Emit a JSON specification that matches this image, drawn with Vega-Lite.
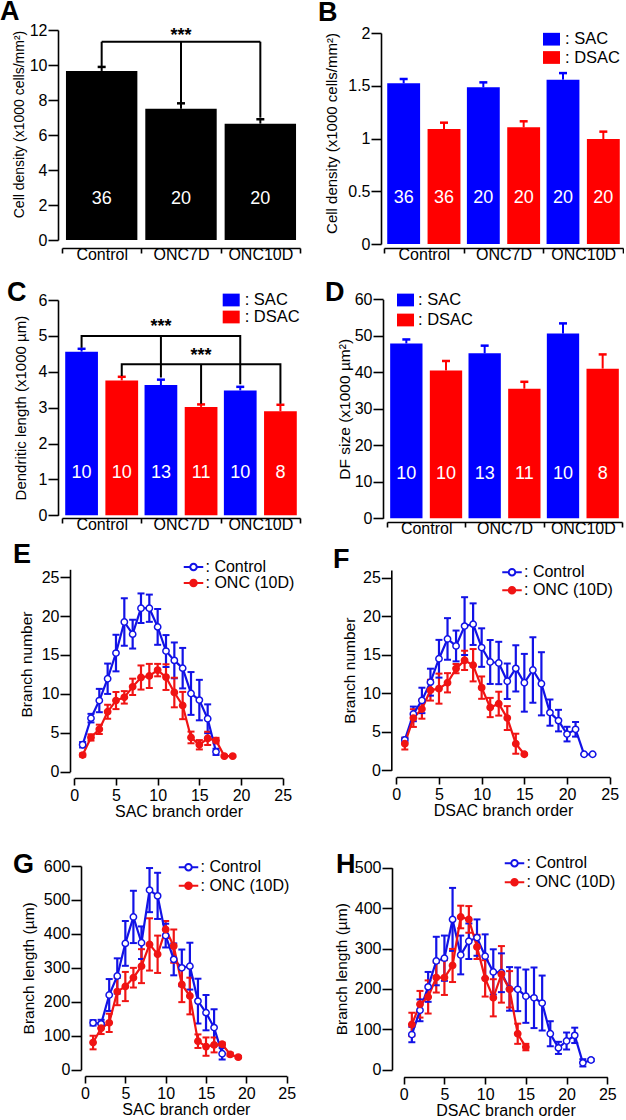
{
"$schema": "https://vega.github.io/schema/vega-lite/v6.json",
"background": "white",
"padding": {"left": 0, "top": -2, "right": 0, "bottom": 0},
"bounds": "flush",
"columns": 2,
"spacing": {"row": 51, "column": 84},
"resolve": {"scale": {"color": "independent", "fill": "independent", "x": "independent", "y": "independent", "xOffset": "independent"}, "legend": {"color": "independent", "fill": "independent"}},
"datasets": {
"A": [{"group":"Control","mean":9.66,"hi":9.89,"n":"36"},{"group":"ONC7D","mean":7.5,"hi":7.81,"n":"20"},{"group":"ONC10D","mean":6.65,"hi":6.9,"n":"20"}],
"bracketA": [{"group":"Control","group2":"ONC10D","y":11.33,"y2":11.33},{"group":"Control","group2":"Control","y":11.33,"y2":9.94},{"group":"ONC7D","group2":"ONC7D","y":11.33,"y2":7.83},{"group":"ONC10D","group2":"ONC10D","y":11.33,"y2":6.99}],
"starsA": [{"group":"ONC7D","y":11.38}],
"B": [{"group":"Control","cell":"SAC","mean":1.523,"hi":1.564,"n":"36"},{"group":"Control","cell":"DSAC","mean":1.09,"hi":1.15,"n":"36"},{"group":"ONC7D","cell":"SAC","mean":1.485,"hi":1.532,"n":"20"},{"group":"ONC7D","cell":"DSAC","mean":1.106,"hi":1.163,"n":"20"},{"group":"ONC10D","cell":"SAC","mean":1.558,"hi":1.62,"n":"20"},{"group":"ONC10D","cell":"DSAC","mean":0.995,"hi":1.065,"n":"20"}],
"C": [{"group":"Control","cell":"SAC","mean":4.56,"hi":4.64,"n":"10"},{"group":"Control","cell":"DSAC","mean":3.76,"hi":3.86,"n":"10"},{"group":"ONC7D","cell":"SAC","mean":3.63,"hi":3.78,"n":"13"},{"group":"ONC7D","cell":"DSAC","mean":3.02,"hi":3.09,"n":"11"},{"group":"ONC10D","cell":"SAC","mean":3.48,"hi":3.58,"n":"10"},{"group":"ONC10D","cell":"DSAC","mean":2.9,"hi":3.08,"n":"8"}],
"bracketC": [{"bid":"s","ord":0,"group":"Control","cell":"SAC","y":4.67},{"bid":"s","ord":1,"group":"Control","cell":"SAC","y":5.0},{"bid":"s","ord":2,"group":"ONC10D","cell":"SAC","y":5.0},{"bid":"s","ord":3,"group":"ONC10D","cell":"SAC","y":3.65},{"bid":"d","ord":0,"group":"Control","cell":"DSAC","y":3.88},{"bid":"d","ord":1,"group":"Control","cell":"DSAC","y":4.21},{"bid":"d","ord":2,"group":"ONC10D","cell":"DSAC","y":4.21},{"bid":"d","ord":3,"group":"ONC10D","cell":"DSAC","y":3.11}],
"dropC": [{"group":"ONC7D","cell":"SAC","y":5.0,"y2":3.84},{"group":"ONC7D","cell":"DSAC","y":4.21,"y2":3.11}],
"starsC": [{"group":"ONC7D","cell":"SAC","y":5.12},{"group":"ONC7D","cell":"DSAC","y":4.3}],
"D": [{"group":"Control","cell":"SAC","mean":47.9,"hi":49.0,"n":"10"},{"group":"Control","cell":"DSAC","mean":40.5,"hi":43.1,"n":"10"},{"group":"ONC7D","cell":"SAC","mean":45.2,"hi":47.3,"n":"13"},{"group":"ONC7D","cell":"DSAC","mean":35.5,"hi":37.4,"n":"11"},{"group":"ONC10D","cell":"SAC","mean":50.6,"hi":53.4,"n":"10"},{"group":"ONC10D","cell":"DSAC","mean":41.0,"hi":44.9,"n":"8"}],
"E": [
{"order":1,"series":"Control","mean":3.46,"lo":3.11,"hi":3.81},{"order":2,"series":"Control","mean":6.88,"lo":6.33,"hi":7.43},{"order":3,"series":"Control","mean":9.14,"lo":7.64,"hi":10.64},{"order":4,"series":"Control","mean":11.94,"lo":9.99,"hi":13.89},{"order":5,"series":"Control","mean":15.24,"lo":12.89,"hi":17.59},{"order":6,"series":"Control","mean":19.23,"lo":16.18,"hi":22.28},{"order":7,"series":"Control","mean":17.67,"lo":15.82,"hi":19.52},{"order":8,"series":"Control","mean":21.0,"lo":19.1,"hi":22.9},{"order":9,"series":"Control","mean":21.0,"lo":19.25,"hi":22.75},{"order":10,"series":"Control","mean":18.6,"lo":16.3,"hi":20.9},{"order":11,"series":"Control","mean":15.5,"lo":13.45,"hi":17.55},{"order":12,"series":"Control","mean":14.3,"lo":12.0,"hi":16.6},{"order":13,"series":"Control","mean":13.3,"lo":10.7,"hi":15.9},{"order":14,"series":"Control","mean":10.05,"lo":7.3,"hi":12.8},{"order":15,"series":"Control","mean":9.2,"lo":6.6,"hi":11.8},{"order":16,"series":"Control","mean":6.8,"lo":4.95,"hi":8.65},{"order":17,"series":"Control","mean":2.55,"lo":2.15,"hi":2.95},
{"order":1,"series":"ONC (10D)","mean":2.14,"lo":1.94,"hi":2.34},{"order":2,"series":"ONC (10D)","mean":4.4,"lo":4.0,"hi":4.8},{"order":3,"series":"ONC (10D)","mean":5.44,"lo":4.84,"hi":6.04},{"order":4,"series":"ONC (10D)","mean":7.7,"lo":6.8,"hi":8.6},{"order":5,"series":"ONC (10D)","mean":9.14,"lo":8.04,"hi":10.24},{"order":6,"series":"ONC (10D)","mean":9.55,"lo":8.75,"hi":10.35},{"order":7,"series":"ONC (10D)","mean":10.9,"lo":9.85,"hi":11.95},{"order":8,"series":"ONC (10D)","mean":12.1,"lo":10.55,"hi":13.65},{"order":9,"series":"ONC (10D)","mean":12.3,"lo":10.75,"hi":13.85},{"order":10,"series":"ONC (10D)","mean":13.05,"lo":12.25,"hi":13.85},{"order":11,"series":"ONC (10D)","mean":12.15,"lo":10.5,"hi":13.8},{"order":12,"series":"ONC (10D)","mean":10.17,"lo":8.27,"hi":12.07},{"order":13,"series":"ONC (10D)","mean":8.5,"lo":6.75,"hi":10.25},{"order":14,"series":"ONC (10D)","mean":4.4,"lo":3.65,"hi":5.15},{"order":15,"series":"ONC (10D)","mean":3.46,"lo":2.86,"hi":4.06},{"order":16,"series":"ONC (10D)","mean":4.28,"lo":3.43,"hi":5.13},{"order":17,"series":"ONC (10D)","mean":4.0,"lo":3.65,"hi":4.35},{"order":18,"series":"ONC (10D)","mean":2.0,"lo":1.9,"hi":2.1},{"order":19,"series":"ONC (10D)","mean":2.0,"lo":1.9,"hi":2.1}],
"F": [
{"order":1,"series":"Control","mean":3.95,"lo":3.65,"hi":4.25},{"order":2,"series":"Control","mean":7.32,"lo":6.37,"hi":8.27},{"order":3,"series":"Control","mean":9.07,"lo":7.42,"hi":10.72},{"order":4,"series":"Control","mean":11.44,"lo":9.69,"hi":13.19},{"order":5,"series":"Control","mean":14.48,"lo":12.03,"hi":16.93},{"order":6,"series":"Control","mean":17.05,"lo":14.35,"hi":19.75},{"order":7,"series":"Control","mean":16.14,"lo":14.14,"hi":18.14},{"order":8,"series":"Control","mean":18.72,"lo":14.97,"hi":22.47},{"order":9,"series":"Control","mean":18.97,"lo":16.27,"hi":21.67},{"order":10,"series":"Control","mean":15.93,"lo":13.43,"hi":18.43},{"order":11,"series":"Control","mean":14.06,"lo":11.21,"hi":16.91},{"order":12,"series":"Control","mean":13.93,"lo":11.18,"hi":16.68},{"order":13,"series":"Control","mean":11.56,"lo":9.26,"hi":13.86},{"order":14,"series":"Control","mean":13.23,"lo":10.23,"hi":16.23},{"order":15,"series":"Control","mean":11.36,"lo":7.61,"hi":15.11},{"order":16,"series":"Control","mean":13.02,"lo":8.77,"hi":17.27},{"order":17,"series":"Control","mean":11.23,"lo":7.13,"hi":15.33},{"order":18,"series":"Control","mean":7.49,"lo":5.79,"hi":9.19},{"order":19,"series":"Control","mean":6.45,"lo":5.05,"hi":7.85},{"order":20,"series":"Control","mean":4.7,"lo":3.75,"hi":5.65},{"order":21,"series":"Control","mean":5.32,"lo":4.37,"hi":6.27},{"order":22,"series":"Control","mean":2.08,"lo":2.03,"hi":2.13},{"order":23,"series":"Control","mean":2.08,"lo":2.03,"hi":2.13},
{"order":1,"series":"ONC (10D)","mean":3.45,"lo":2.7,"hi":4.2},{"order":2,"series":"ONC (10D)","mean":6.78,"lo":5.63,"hi":7.93},{"order":3,"series":"ONC (10D)","mean":7.95,"lo":6.7,"hi":9.2},{"order":4,"series":"ONC (10D)","mean":10.4,"lo":9.05,"hi":11.75},{"order":5,"series":"ONC (10D)","mean":10.6,"lo":8.65,"hi":12.55},{"order":6,"series":"ONC (10D)","mean":11.36,"lo":10.11,"hi":12.61},{"order":7,"series":"ONC (10D)","mean":13.2,"lo":12.6,"hi":13.8},{"order":8,"series":"ONC (10D)","mean":14.27,"lo":13.02,"hi":15.52},{"order":9,"series":"ONC (10D)","mean":13.64,"lo":11.54,"hi":15.74},{"order":10,"series":"ONC (10D)","mean":10.73,"lo":9.28,"hi":12.18},{"order":11,"series":"ONC (10D)","mean":8.15,"lo":6.9,"hi":9.4},{"order":12,"series":"ONC (10D)","mean":8.65,"lo":7.1,"hi":10.2},{"order":13,"series":"ONC (10D)","mean":6.78,"lo":5.23,"hi":8.33},{"order":14,"series":"ONC (10D)","mean":3.45,"lo":2.15,"hi":4.75},{"order":15,"series":"ONC (10D)","mean":2.08,"lo":1.98,"hi":2.18}],
"G": [
{"order":1,"series":"Control","mean":138,"lo":130,"hi":146},{"order":2,"series":"Control","mean":135,"lo":123,"hi":147},{"order":3,"series":"Control","mean":220,"lo":173,"hi":267},{"order":4,"series":"Control","mean":276,"lo":224,"hi":328},{"order":5,"series":"Control","mean":372,"lo":306,"hi":438},{"order":6,"series":"Control","mean":450,"lo":373,"hi":527},{"order":7,"series":"Control","mean":374,"lo":326,"hi":422},{"order":8,"series":"Control","mean":529,"lo":464,"hi":594},{"order":9,"series":"Control","mean":512,"lo":444,"hi":580},{"order":10,"series":"Control","mean":395,"lo":360,"hi":430},{"order":11,"series":"Control","mean":325,"lo":278,"hi":372},{"order":12,"series":"Control","mean":300,"lo":246,"hi":354},{"order":13,"series":"Control","mean":305,"lo":236,"hi":374},{"order":14,"series":"Control","mean":202,"lo":136,"hi":268},{"order":15,"series":"Control","mean":168,"lo":116,"hi":220},{"order":16,"series":"Control","mean":124,"lo":70,"hi":178},{"order":17,"series":"Control","mean":47,"lo":30,"hi":64},
{"order":1,"series":"ONC (10D)","mean":80,"lo":60,"hi":100},{"order":2,"series":"ONC (10D)","mean":122,"lo":105,"hi":139},{"order":3,"series":"ONC (10D)","mean":138,"lo":111,"hi":165},{"order":4,"series":"ONC (10D)","mean":230,"lo":190,"hi":270},{"order":5,"series":"ONC (10D)","mean":245,"lo":202,"hi":288},{"order":6,"series":"ONC (10D)","mean":271,"lo":242,"hi":300},{"order":7,"series":"ONC (10D)","mean":305,"lo":255,"hi":355},{"order":8,"series":"ONC (10D)","mean":369,"lo":292,"hi":446},{"order":9,"series":"ONC (10D)","mean":340,"lo":285,"hi":395},{"order":10,"series":"ONC (10D)","mean":413,"lo":388,"hi":438},{"order":11,"series":"ONC (10D)","mean":364,"lo":315,"hi":413},{"order":12,"series":"ONC (10D)","mean":251,"lo":199,"hi":303},{"order":13,"series":"ONC (10D)","mean":217,"lo":163,"hi":271},{"order":14,"series":"ONC (10D)","mean":84,"lo":64,"hi":104},{"order":15,"series":"ONC (10D)","mean":68,"lo":41,"hi":95},{"order":16,"series":"ONC (10D)","mean":73,"lo":51,"hi":95},{"order":17,"series":"ONC (10D)","mean":75,"lo":70,"hi":80},{"order":18,"series":"ONC (10D)","mean":45,"lo":40,"hi":50},{"order":19,"series":"ONC (10D)","mean":37,"lo":34,"hi":40}],
"H": [
{"order":1,"series":"Control","mean":87,"lo":68,"hi":106},{"order":2,"series":"Control","mean":147,"lo":120,"hi":174},{"order":3,"series":"Control","mean":205,"lo":168,"hi":242},{"order":4,"series":"Control","mean":269,"lo":209,"hi":329},{"order":5,"series":"Control","mean":276,"lo":220,"hi":332},{"order":6,"series":"Control","mean":372,"lo":294,"hi":450},{"order":7,"series":"Control","mean":284,"lo":236,"hi":332},{"order":8,"series":"Control","mean":318,"lo":274,"hi":362},{"order":9,"series":"Control","mean":327,"lo":282,"hi":372},{"order":10,"series":"Control","mean":281,"lo":227,"hi":335},{"order":11,"series":"Control","mean":242,"lo":186,"hi":298},{"order":12,"series":"Control","mean":240,"lo":192,"hi":288},{"order":13,"series":"Control","mean":200,"lo":146,"hi":254},{"order":14,"series":"Control","mean":199,"lo":145,"hi":253},{"order":15,"series":"Control","mean":182,"lo":116,"hi":248},{"order":16,"series":"Control","mean":178,"lo":103,"hi":253},{"order":17,"series":"Control","mean":165,"lo":97,"hi":233},{"order":18,"series":"Control","mean":89,"lo":58,"hi":120},{"order":19,"series":"Control","mean":54,"lo":39,"hi":69},{"order":20,"series":"Control","mean":71,"lo":50,"hi":92},{"order":21,"series":"Control","mean":85,"lo":66,"hi":104},{"order":22,"series":"Control","mean":17,"lo":8,"hi":26},{"order":23,"series":"Control","mean":24,"lo":21,"hi":27},
{"order":1,"series":"ONC (10D)","mean":112,"lo":83,"hi":141},{"order":2,"series":"ONC (10D)","mean":162,"lo":129,"hi":195},{"order":3,"series":"ONC (10D)","mean":180,"lo":139,"hi":221},{"order":4,"series":"ONC (10D)","mean":228,"lo":191,"hi":265},{"order":5,"series":"ONC (10D)","mean":228,"lo":185,"hi":271},{"order":6,"series":"ONC (10D)","mean":258,"lo":217,"hi":299},{"order":7,"series":"ONC (10D)","mean":378,"lo":350,"hi":406},{"order":8,"series":"ONC (10D)","mean":372,"lo":339,"hi":405},{"order":9,"series":"ONC (10D)","mean":304,"lo":274,"hi":334},{"order":10,"series":"ONC (10D)","mean":226,"lo":181,"hi":271},{"order":11,"series":"ONC (10D)","mean":178,"lo":132,"hi":224},{"order":12,"series":"ONC (10D)","mean":236,"lo":166,"hi":306},{"order":13,"series":"ONC (10D)","mean":199,"lo":154,"hi":244},{"order":14,"series":"ONC (10D)","mean":89,"lo":64,"hi":114},{"order":15,"series":"ONC (10D)","mean":56,"lo":48,"hi":64}]
},
"concat": [
{
 "width": 238, "height": 218,
 "title": {"text": "A", "dx": -62, "dy": 8},
 "data": {"name": "A"},
 "encoding": {"x": {"field": "group", "type": "nominal", "scale": {"domain": ["Control","ONC7D","ONC10D"], "paddingInner": 0, "paddingOuter": 0}, "axis": {"title": null, "labelAngle": 0, "tickBand": "extent", "offset": 0, "tickSize": 5, "labelPadding": -7, "labelFontSize": 16}}},
 "layer": [
  {"mark": {"type": "bar", "width": {"band": 0.9}, "color": "black"},
   "encoding": {"y": {"field": "mean", "type": "quantitative", "scale": {"domain": [0, 12], "range": [210, 0]}, "axis": {"title": "Cell density (x1000 cells/mm²)", "values": [0,2,4,6,8,10,12], "offset": 4, "tickSize": 10, "labelPadding": 1, "labelFontSize": 16, "labelOverlap": false, "titleFontSize": 14, "titlePadding": 3, "titleY": 94}}}},
  {"mark": {"type": "rule", "color": "black", "strokeWidth": 2}, "encoding": {"y": {"field": "mean", "type": "quantitative", "axis": {"title": "Cell density (x1000 cells/mm²)", "values": [0,2,4,6,8,10,12], "offset": 4, "tickSize": 10, "labelPadding": 1, "labelFontSize": 16, "labelOverlap": false, "titleFontSize": 14, "titlePadding": 3, "titleY": 94}}, "y2": {"field": "hi"}}},
  {"mark": {"type": "tick", "orient": "horizontal", "color": "black", "size": 8, "thickness": 2.5, "opacity": 1}, "encoding": {"y": {"field": "hi", "type": "quantitative", "axis": {"title": "Cell density (x1000 cells/mm²)", "values": [0,2,4,6,8,10,12], "offset": 4, "tickSize": 10, "labelPadding": 1, "labelFontSize": 16, "labelOverlap": false, "titleFontSize": 14, "titlePadding": 3, "titleY": 94}}}},
  {"mark": {"type": "text", "color": "white", "fontSize": 18, "baseline": "middle"}, "encoding": {"y": {"datum": 2.34, "type": "quantitative", "axis": {"title": "Cell density (x1000 cells/mm²)", "values": [0,2,4,6,8,10,12], "offset": 4, "tickSize": 10, "labelPadding": 1, "labelFontSize": 16, "labelOverlap": false, "titleFontSize": 14, "titlePadding": 3, "titleY": 94}}, "text": {"field": "n"}}},
  {"data": {"name": "bracketA"}, "mark": {"type": "rule", "color": "black", "strokeWidth": 2}, "encoding": {"x2": {"field": "group2"}, "y": {"field": "y", "type": "quantitative", "axis": {"title": "Cell density (x1000 cells/mm²)", "values": [0,2,4,6,8,10,12], "offset": 4, "tickSize": 10, "labelPadding": 1, "labelFontSize": 16, "labelOverlap": false, "titleFontSize": 14, "titlePadding": 3, "titleY": 94}}, "y2": {"field": "y2"}}},
  {"data": {"name": "starsA"}, "mark": {"type": "text", "text": "***", "color": "black", "fontSize": 18, "fontWeight": "bold", "baseline": "alphabetic"}, "encoding": {"y": {"field": "y", "type": "quantitative", "axis": {"title": "Cell density (x1000 cells/mm²)", "values": [0,2,4,6,8,10,12], "offset": 4, "tickSize": 10, "labelPadding": 1, "labelFontSize": 16, "labelOverlap": false, "titleFontSize": 14, "titlePadding": 3, "titleY": 94}}}}
 ]
},
{
 "width": 239, "height": 218,
 "title": {"text": "B", "dx": -66, "dy": 6},
 "data": {"name": "B"},
 "encoding": {
  "x": {"field": "group", "type": "nominal", "scale": {"domain": ["Control","ONC7D","ONC10D"], "paddingInner": 0, "paddingOuter": 0}, "axis": {"title": null, "labelAngle": 0, "tickBand": "extent", "offset": 0, "tickSize": 5, "labelPadding": -7, "labelFontSize": 16}},
  "xOffset": {"field": "cell", "type": "nominal", "scale": {"domain": ["SAC","DSAC"], "paddingInner": 0.185, "paddingOuter": 0.08}}
 },
 "layer": [
  {"mark": {"type": "bar"},
   "encoding": {"y": {"field": "mean", "type": "quantitative", "scale": {"domain": [0, 2], "range": [214, 3]}, "axis": {"title": "Cell density (x1000 cells/mm²)", "values": [0,0.5,1,1.5,2], "format": "~g", "offset": 3, "tickSize": 10, "labelPadding": 1, "labelFontSize": 16, "labelOverlap": false, "titleFontSize": 15, "titlePadding": 8, "titleY": 103}},
    "color": {"field": "cell", "type": "nominal", "scale": {"domain": ["SAC","DSAC"], "range": ["#0000ff","#ff0000"]}, "legend": {"orient": "none", "legendX": 159, "legendY": 0.7, "title": null, "labelExpr": "': ' + datum.label", "symbolType": "M-1,-0.75H1V0.75H-1Z", "symbolSize": 289, "symbolStrokeWidth": 0, "labelFontSize": 16.5, "labelOffset": 5, "rowPadding": 1.3, "padding": 0}}}},
  {"mark": {"type": "rule", "strokeWidth": 2}, "encoding": {"y": {"field": "mean", "type": "quantitative", "axis": {"title": "Cell density (x1000 cells/mm²)", "values": [0,0.5,1,1.5,2], "format": "~g", "offset": 3, "tickSize": 10, "labelPadding": 1, "labelFontSize": 16, "labelOverlap": false, "titleFontSize": 15, "titlePadding": 8, "titleY": 103}}, "y2": {"field": "hi"}, "color": {"field": "cell", "type": "nominal", "legend": null}}},
  {"mark": {"type": "tick", "orient": "horizontal", "size": 8, "thickness": 2.5, "opacity": 1}, "encoding": {"y": {"field": "hi", "type": "quantitative", "axis": {"title": "Cell density (x1000 cells/mm²)", "values": [0,0.5,1,1.5,2], "format": "~g", "offset": 3, "tickSize": 10, "labelPadding": 1, "labelFontSize": 16, "labelOverlap": false, "titleFontSize": 15, "titlePadding": 8, "titleY": 103}}, "color": {"field": "cell", "type": "nominal", "legend": null}}},
  {"mark": {"type": "text", "color": "white", "fontSize": 18, "baseline": "middle"}, "encoding": {"y": {"datum": 0.436, "type": "quantitative", "axis": {"title": "Cell density (x1000 cells/mm²)", "values": [0,0.5,1,1.5,2], "format": "~g", "offset": 3, "tickSize": 10, "labelPadding": 1, "labelFontSize": 16, "labelOverlap": false, "titleFontSize": 15, "titlePadding": 8, "titleY": 103}}, "text": {"field": "n"}}}
 ]
},
{
 "width": 238, "height": 219,
 "title": {"text": "C", "dx": -55, "dy": 19},
 "data": {"name": "C"},
 "encoding": {
  "x": {"field": "group", "type": "nominal", "scale": {"domain": ["Control","ONC7D","ONC10D"], "paddingInner": 0, "paddingOuter": 0}, "axis": {"title": null, "labelAngle": 0, "tickBand": "extent", "offset": 0, "tickSize": 5, "labelPadding": -7, "labelFontSize": 16}},
  "xOffset": {"field": "cell", "type": "nominal", "scale": {"domain": ["SAC","DSAC"], "paddingInner": 0.185, "paddingOuter": 0.08}}
 },
 "layer": [
  {"mark": {"type": "bar"},
   "encoding": {"y": {"field": "mean", "type": "quantitative", "scale": {"domain": [0, 6], "range": [216.3, 1]}, "axis": {"title": "Dendritic length (x1000 µm)", "values": [0,1,2,3,4,5,6], "offset": 4, "tickSize": 10, "labelPadding": 1, "labelFontSize": 16, "labelOverlap": false, "titleFontSize": 15, "titlePadding": 10}},
    "color": {"field": "cell", "type": "nominal", "scale": {"domain": ["SAC","DSAC"], "range": ["#0000ff","#ff0000"]}, "legend": {"orient": "none", "legendX": 160.7, "legendY": -7.5, "title": null, "labelExpr": "': ' + datum.label", "symbolType": "M-1,-0.75H1V0.75H-1Z", "symbolSize": 289, "symbolStrokeWidth": 0, "labelFontSize": 16.5, "labelOffset": 5, "rowPadding": 0, "padding": 0}}}},
  {"mark": {"type": "rule", "strokeWidth": 2}, "encoding": {"y": {"field": "mean", "type": "quantitative", "axis": {"title": "Dendritic length (x1000 µm)", "values": [0,1,2,3,4,5,6], "offset": 4, "tickSize": 10, "labelPadding": 1, "labelFontSize": 16, "labelOverlap": false, "titleFontSize": 15, "titlePadding": 10}}, "y2": {"field": "hi"}, "color": {"field": "cell", "type": "nominal", "legend": null}}},
  {"mark": {"type": "tick", "orient": "horizontal", "size": 8, "thickness": 2.5, "opacity": 1}, "encoding": {"y": {"field": "hi", "type": "quantitative", "axis": {"title": "Dendritic length (x1000 µm)", "values": [0,1,2,3,4,5,6], "offset": 4, "tickSize": 10, "labelPadding": 1, "labelFontSize": 16, "labelOverlap": false, "titleFontSize": 15, "titlePadding": 10}}, "color": {"field": "cell", "type": "nominal", "legend": null}}},
  {"mark": {"type": "text", "color": "white", "fontSize": 18, "baseline": "middle"}, "encoding": {"y": {"datum": 1.19, "type": "quantitative", "axis": {"title": "Dendritic length (x1000 µm)", "values": [0,1,2,3,4,5,6], "offset": 4, "tickSize": 10, "labelPadding": 1, "labelFontSize": 16, "labelOverlap": false, "titleFontSize": 15, "titlePadding": 10}}, "text": {"field": "n"}}},
  {"data": {"name": "bracketC"}, "mark": {"type": "line", "color": "black", "strokeWidth": 2, "strokeJoin": "miter"}, "encoding": {"y": {"field": "y", "type": "quantitative", "axis": {"title": "Dendritic length (x1000 µm)", "values": [0,1,2,3,4,5,6], "offset": 4, "tickSize": 10, "labelPadding": 1, "labelFontSize": 16, "labelOverlap": false, "titleFontSize": 15, "titlePadding": 10}}, "order": {"field": "ord"}, "detail": {"field": "bid"}}},
  {"data": {"name": "dropC"}, "mark": {"type": "rule", "color": "black", "strokeWidth": 2}, "encoding": {"y": {"field": "y", "type": "quantitative", "axis": {"title": "Dendritic length (x1000 µm)", "values": [0,1,2,3,4,5,6], "offset": 4, "tickSize": 10, "labelPadding": 1, "labelFontSize": 16, "labelOverlap": false, "titleFontSize": 15, "titlePadding": 10}}, "y2": {"field": "y2"}}},
  {"data": {"name": "starsC"}, "mark": {"type": "text", "text": "***", "color": "black", "fontSize": 18, "fontWeight": "bold", "baseline": "alphabetic"}, "encoding": {"y": {"field": "y", "type": "quantitative", "axis": {"title": "Dendritic length (x1000 µm)", "values": [0,1,2,3,4,5,6], "offset": 4, "tickSize": 10, "labelPadding": 1, "labelFontSize": 16, "labelOverlap": false, "titleFontSize": 15, "titlePadding": 10}}}}
 ]
},
{
 "width": 238, "height": 219,
 "title": {"text": "D", "dx": -59, "dy": 20},
 "data": {"name": "D"},
 "encoding": {
  "x": {"field": "group", "type": "nominal", "scale": {"domain": ["Control","ONC7D","ONC10D"], "paddingInner": 0, "paddingOuter": 0, "range": [3, 238]}, "axis": {"title": null, "labelAngle": 0, "tickBand": "extent", "offset": 4, "tickSize": 5, "labelPadding": -7, "labelFontSize": 16}},
  "xOffset": {"field": "cell", "type": "nominal", "scale": {"domain": ["SAC","DSAC"], "paddingInner": 0.185, "paddingOuter": 0.08}}
 },
 "layer": [
  {"mark": {"type": "bar"},
   "encoding": {"y": {"field": "mean", "type": "quantitative", "scale": {"domain": [0, 60], "range": [219.3, 0.3]}, "axis": {"title": "DF size (x1000 µm²)", "values": [0,10,20,30,40,50,60], "offset": 1, "tickSize": 10, "labelPadding": 1, "labelFontSize": 16, "labelOverlap": false, "titleFontSize": 15.5, "titlePadding": 1.5}},
    "color": {"field": "cell", "type": "nominal", "scale": {"domain": ["SAC","DSAC"], "range": ["#0000ff","#ff0000"]}, "legend": {"orient": "none", "legendX": 13, "legendY": -7.5, "title": null, "labelExpr": "': ' + datum.label", "symbolType": "M-1,-0.75H1V0.75H-1Z", "symbolSize": 289, "symbolStrokeWidth": 0, "labelFontSize": 16.5, "labelOffset": 4, "rowPadding": 3, "padding": 0}}}},
  {"mark": {"type": "rule", "strokeWidth": 2}, "encoding": {"y": {"field": "mean", "type": "quantitative", "axis": {"title": "DF size (x1000 µm²)", "values": [0,10,20,30,40,50,60], "offset": 1, "tickSize": 10, "labelPadding": 1, "labelFontSize": 16, "labelOverlap": false, "titleFontSize": 15.5, "titlePadding": 1.5}}, "y2": {"field": "hi"}, "color": {"field": "cell", "type": "nominal", "legend": null}}},
  {"mark": {"type": "tick", "orient": "horizontal", "size": 8, "thickness": 2.5, "opacity": 1}, "encoding": {"y": {"field": "hi", "type": "quantitative", "axis": {"title": "DF size (x1000 µm²)", "values": [0,10,20,30,40,50,60], "offset": 1, "tickSize": 10, "labelPadding": 1, "labelFontSize": 16, "labelOverlap": false, "titleFontSize": 15.5, "titlePadding": 1.5}}, "color": {"field": "cell", "type": "nominal", "legend": null}}},
  {"mark": {"type": "text", "color": "white", "fontSize": 18, "baseline": "middle"}, "encoding": {"y": {"datum": 12.2, "type": "quantitative", "axis": {"title": "DF size (x1000 µm²)", "values": [0,10,20,30,40,50,60], "offset": 1, "tickSize": 10, "labelPadding": 1, "labelFontSize": 16, "labelOverlap": false, "titleFontSize": 15.5, "titlePadding": 1.5}}, "text": {"field": "n"}}}
 ]
},
{
 "width": 221, "height": 208,
 "title": {"text": "E", "dx": -49, "dy": 14},
 "data": {"name": "E"},
 "encoding": {"x": {"field": "order", "type": "quantitative", "scale": {"domain": [0, 25], "range": [12.3, 220.7]}, "axis": {"title": "SAC branch order", "values": [0,5,10,15,20,25], "offset": 1, "tickSize": 7, "labelPadding": 2, "labelFontSize": 16, "labelOverlap": false, "titleFontSize": 16, "titlePadding": 0}}},
 "layer": [
  {"mark": {"type": "rule", "strokeWidth": 2.2}, "encoding": {"y": {"field": "lo", "type": "quantitative", "scale": {"domain": [0, 25], "range": [202.7, 0.3]}, "axis": {"title": "Branch number", "values": [0,5,10,15,20,25], "offset": -8, "tickSize": 10, "labelPadding": 1, "labelFontSize": 16, "labelOverlap": false, "titlePadding": 6.5, "titleFontSize": 15.5, "titleY": 95}}, "y2": {"field": "hi"},
   "color": {"field": "series", "type": "nominal", "scale": {"domain": ["Control","ONC (10D)"], "range": ["#1212e6","#f01414"]}, "legend": {"orient": "none", "legendX": 123.5, "legendY": -10, "title": null, "labelExpr": "': ' + datum.label", "symbolType": "M-1.5,0H-0.5M0.5,0H1.5M0.5,0A0.5,0.5,0,1,1,-0.5,0A0.5,0.5,0,1,1,0.5,0", "symbolSize": 169, "symbolStrokeWidth": 2, "labelFontSize": 16, "labelOffset": 4, "rowPadding": 0, "padding": 0}}}},
  {"mark": {"type": "point", "shape": "M-1,0H1", "size": 49, "strokeWidth": 2, "filled": false, "opacity": 1}, "encoding": {"y": {"field": "lo", "type": "quantitative", "axis": {"title": "Branch number", "values": [0,5,10,15,20,25], "offset": -8, "tickSize": 10, "labelPadding": 1, "labelFontSize": 16, "labelOverlap": false, "titlePadding": 6.5, "titleFontSize": 15.5, "titleY": 95}}, "color": {"field": "series", "type": "nominal"}}},
  {"mark": {"type": "point", "shape": "M-1,0H1", "size": 49, "strokeWidth": 2, "filled": false, "opacity": 1}, "encoding": {"y": {"field": "hi", "type": "quantitative", "axis": {"title": "Branch number", "values": [0,5,10,15,20,25], "offset": -8, "tickSize": 10, "labelPadding": 1, "labelFontSize": 16, "labelOverlap": false, "titlePadding": 6.5, "titleFontSize": 15.5, "titleY": 95}}, "color": {"field": "series", "type": "nominal"}}},
  {"mark": {"type": "line", "strokeWidth": 2.2}, "encoding": {"y": {"field": "mean", "type": "quantitative", "axis": {"title": "Branch number", "values": [0,5,10,15,20,25], "offset": -8, "tickSize": 10, "labelPadding": 1, "labelFontSize": 16, "labelOverlap": false, "titlePadding": 6.5, "titleFontSize": 15.5, "titleY": 95}}, "color": {"field": "series", "type": "nominal"}}},
  {"mark": {"type": "point", "shape": "circle", "size": 40, "strokeWidth": 1.5, "opacity": 1, "filled": false}, "encoding": {"y": {"field": "mean", "type": "quantitative", "axis": {"title": "Branch number", "values": [0,5,10,15,20,25], "offset": -8, "tickSize": 10, "labelPadding": 1, "labelFontSize": 16, "labelOverlap": false, "titlePadding": 6.5, "titleFontSize": 15.5, "titleY": 95}},
   "color": {"field": "series", "type": "nominal"},
   "fill": {"field": "series", "type": "nominal", "scale": {"domain": ["Control","ONC (10D)"], "range": ["white","#f01414"]}}}}
 ]
},
{
 "width": 226, "height": 208,
 "title": {"text": "F", "dx": -51, "dy": 14},
 "data": {"name": "F"},
 "encoding": {"x": {"field": "order", "type": "quantitative", "scale": {"domain": [0, 25], "range": [12.3, 225.7]}, "axis": {"title": "DSAC branch order", "values": [0,5,10,15,20,25], "offset": 0, "tickSize": 7, "labelPadding": 2, "labelFontSize": 16, "labelOverlap": false, "titleFontSize": 16, "titlePadding": 0}}},
 "layer": [
  {"mark": {"type": "rule", "strokeWidth": 2.2}, "encoding": {"y": {"field": "lo", "type": "quantitative", "scale": {"domain": [0, 25], "range": [201.3, 1]}, "axis": {"title": "Branch number", "values": [0,5,10,15,20,25], "offset": -7.3, "tickSize": 10, "labelPadding": 1, "labelFontSize": 16, "labelOverlap": false, "titlePadding": 5, "titleFontSize": 15.5}}, "y2": {"field": "hi"},
   "color": {"field": "series", "type": "nominal", "scale": {"domain": ["Control","ONC (10D)"], "range": ["#1212e6","#f01414"]}, "legend": {"orient": "none", "legendX": 120, "legendY": -4.8, "title": null, "labelExpr": "': ' + datum.label", "symbolType": "M-1.5,0H-0.5M0.5,0H1.5M0.5,0A0.5,0.5,0,1,1,-0.5,0A0.5,0.5,0,1,1,0.5,0", "symbolSize": 169, "symbolStrokeWidth": 2, "labelFontSize": 16, "labelOffset": 4, "rowPadding": 2, "padding": 0}}}},
  {"mark": {"type": "point", "shape": "M-1,0H1", "size": 49, "strokeWidth": 2, "filled": false, "opacity": 1}, "encoding": {"y": {"field": "lo", "type": "quantitative", "axis": {"title": "Branch number", "values": [0,5,10,15,20,25], "offset": -7.3, "tickSize": 10, "labelPadding": 1, "labelFontSize": 16, "labelOverlap": false, "titlePadding": 5, "titleFontSize": 15.5}}, "color": {"field": "series", "type": "nominal"}}},
  {"mark": {"type": "point", "shape": "M-1,0H1", "size": 49, "strokeWidth": 2, "filled": false, "opacity": 1}, "encoding": {"y": {"field": "hi", "type": "quantitative", "axis": {"title": "Branch number", "values": [0,5,10,15,20,25], "offset": -7.3, "tickSize": 10, "labelPadding": 1, "labelFontSize": 16, "labelOverlap": false, "titlePadding": 5, "titleFontSize": 15.5}}, "color": {"field": "series", "type": "nominal"}}},
  {"mark": {"type": "line", "strokeWidth": 2.2}, "encoding": {"y": {"field": "mean", "type": "quantitative", "axis": {"title": "Branch number", "values": [0,5,10,15,20,25], "offset": -7.3, "tickSize": 10, "labelPadding": 1, "labelFontSize": 16, "labelOverlap": false, "titlePadding": 5, "titleFontSize": 15.5}}, "color": {"field": "series", "type": "nominal"}}},
  {"mark": {"type": "point", "shape": "circle", "size": 40, "strokeWidth": 1.5, "opacity": 1, "filled": false}, "encoding": {"y": {"field": "mean", "type": "quantitative", "axis": {"title": "Branch number", "values": [0,5,10,15,20,25], "offset": -7.3, "tickSize": 10, "labelPadding": 1, "labelFontSize": 16, "labelOverlap": false, "titlePadding": 5, "titleFontSize": 15.5}},
   "color": {"field": "series", "type": "nominal"},
   "fill": {"field": "series", "type": "nominal", "scale": {"domain": ["Control","ONC (10D)"], "range": ["white","#f01414"]}}}}
 ]
},
{
 "width": 225, "height": 248,
 "title": {"text": "G", "dx": -49, "dy": 55},
 "data": {"name": "G"},
 "encoding": {"x": {"field": "order", "type": "quantitative", "scale": {"domain": [0, 25], "range": [23, 224.7]}, "axis": {"title": "SAC branch order", "values": [0,5,10,15,20,25], "offset": 0, "tickSize": 7, "labelPadding": 2, "labelFontSize": 16, "labelOverlap": false, "titleFontSize": 16, "titlePadding": 0}}},
 "layer": [
  {"mark": {"type": "rule", "strokeWidth": 2.2}, "encoding": {"y": {"field": "lo", "type": "quantitative", "scale": {"domain": [0, 600], "range": [241.7, 38]}, "axis": {"title": "Branch length (µm)", "values": [0,100,200,300,400,500,600], "offset": -19, "tickSize": 10, "labelPadding": 1, "labelFontSize": 16, "labelOverlap": false, "titlePadding": 6.7, "titleFontSize": 15.5}}, "y2": {"field": "hi"},
   "color": {"field": "series", "type": "nominal", "scale": {"domain": ["Control","ONC (10D)"], "range": ["#1212e6","#f01414"]}, "legend": {"orient": "none", "legendX": 118.5, "legendY": 31.2, "title": null, "labelExpr": "': ' + datum.label", "symbolType": "M-1.5,0H-0.5M0.5,0H1.5M0.5,0A0.5,0.5,0,1,1,-0.5,0A0.5,0.5,0,1,1,0.5,0", "symbolSize": 169, "symbolStrokeWidth": 2, "labelFontSize": 16, "labelOffset": 4, "rowPadding": 2.6, "padding": 0}}}},
  {"mark": {"type": "point", "shape": "M-1,0H1", "size": 49, "strokeWidth": 2, "filled": false, "opacity": 1}, "encoding": {"y": {"field": "lo", "type": "quantitative", "axis": {"title": "Branch length (µm)", "values": [0,100,200,300,400,500,600], "offset": -19, "tickSize": 10, "labelPadding": 1, "labelFontSize": 16, "labelOverlap": false, "titlePadding": 6.7, "titleFontSize": 15.5}}, "color": {"field": "series", "type": "nominal"}}},
  {"mark": {"type": "point", "shape": "M-1,0H1", "size": 49, "strokeWidth": 2, "filled": false, "opacity": 1}, "encoding": {"y": {"field": "hi", "type": "quantitative", "axis": {"title": "Branch length (µm)", "values": [0,100,200,300,400,500,600], "offset": -19, "tickSize": 10, "labelPadding": 1, "labelFontSize": 16, "labelOverlap": false, "titlePadding": 6.7, "titleFontSize": 15.5}}, "color": {"field": "series", "type": "nominal"}}},
  {"mark": {"type": "line", "strokeWidth": 2.2}, "encoding": {"y": {"field": "mean", "type": "quantitative", "axis": {"title": "Branch length (µm)", "values": [0,100,200,300,400,500,600], "offset": -19, "tickSize": 10, "labelPadding": 1, "labelFontSize": 16, "labelOverlap": false, "titlePadding": 6.7, "titleFontSize": 15.5}}, "color": {"field": "series", "type": "nominal"}}},
  {"mark": {"type": "point", "shape": "circle", "size": 40, "strokeWidth": 1.5, "opacity": 1, "filled": false}, "encoding": {"y": {"field": "mean", "type": "quantitative", "axis": {"title": "Branch length (µm)", "values": [0,100,200,300,400,500,600], "offset": -19, "tickSize": 10, "labelPadding": 1, "labelFontSize": 16, "labelOverlap": false, "titlePadding": 6.7, "titleFontSize": 15.5}},
   "color": {"field": "series", "type": "nominal"},
   "fill": {"field": "series", "type": "nominal", "scale": {"domain": ["Control","ONC (10D)"], "range": ["white","#f01414"]}}}}
 ]
},
{
 "width": 224, "height": 248,
 "title": {"text": "H", "dx": -48, "dy": 55},
 "data": {"name": "H"},
 "encoding": {"x": {"field": "order", "type": "quantitative", "scale": {"domain": [0, 25], "range": [19.7, 223.3]}, "axis": {"title": "DSAC branch order", "values": [0,5,10,15,20,25], "offset": 1, "tickSize": 7, "labelPadding": 2, "labelFontSize": 16, "labelOverlap": false, "titleFontSize": 16, "titlePadding": 0}}},
 "layer": [
  {"mark": {"type": "rule", "strokeWidth": 2.2}, "encoding": {"y": {"field": "lo", "type": "quantitative", "scale": {"domain": [0, 500], "range": [241.7, 39.7]}, "axis": {"title": "Branch length (µm)", "values": [0,100,200,300,400,500], "offset": -8, "tickSize": 10, "labelPadding": 1, "labelFontSize": 16, "labelOverlap": false, "titlePadding": 5, "titleFontSize": 15.5}}, "y2": {"field": "hi"},
   "color": {"field": "series", "type": "nominal", "scale": {"domain": ["Control","ONC (10D)"], "range": ["#1212e6","#f01414"]}, "legend": {"orient": "none", "legendX": 122.5, "legendY": 27.2, "title": null, "labelExpr": "': ' + datum.label", "symbolType": "M-1.5,0H-0.5M0.5,0H1.5M0.5,0A0.5,0.5,0,1,1,-0.5,0A0.5,0.5,0,1,1,0.5,0", "symbolSize": 169, "symbolStrokeWidth": 2, "labelFontSize": 16, "labelOffset": 4, "rowPadding": 3, "padding": 0}}}},
  {"mark": {"type": "point", "shape": "M-1,0H1", "size": 49, "strokeWidth": 2, "filled": false, "opacity": 1}, "encoding": {"y": {"field": "lo", "type": "quantitative", "axis": {"title": "Branch length (µm)", "values": [0,100,200,300,400,500], "offset": -8, "tickSize": 10, "labelPadding": 1, "labelFontSize": 16, "labelOverlap": false, "titlePadding": 5, "titleFontSize": 15.5}}, "color": {"field": "series", "type": "nominal"}}},
  {"mark": {"type": "point", "shape": "M-1,0H1", "size": 49, "strokeWidth": 2, "filled": false, "opacity": 1}, "encoding": {"y": {"field": "hi", "type": "quantitative", "axis": {"title": "Branch length (µm)", "values": [0,100,200,300,400,500], "offset": -8, "tickSize": 10, "labelPadding": 1, "labelFontSize": 16, "labelOverlap": false, "titlePadding": 5, "titleFontSize": 15.5}}, "color": {"field": "series", "type": "nominal"}}},
  {"mark": {"type": "line", "strokeWidth": 2.2}, "encoding": {"y": {"field": "mean", "type": "quantitative", "axis": {"title": "Branch length (µm)", "values": [0,100,200,300,400,500], "offset": -8, "tickSize": 10, "labelPadding": 1, "labelFontSize": 16, "labelOverlap": false, "titlePadding": 5, "titleFontSize": 15.5}}, "color": {"field": "series", "type": "nominal"}}},
  {"mark": {"type": "point", "shape": "circle", "size": 40, "strokeWidth": 1.5, "opacity": 1, "filled": false}, "encoding": {"y": {"field": "mean", "type": "quantitative", "axis": {"title": "Branch length (µm)", "values": [0,100,200,300,400,500], "offset": -8, "tickSize": 10, "labelPadding": 1, "labelFontSize": 16, "labelOverlap": false, "titlePadding": 5, "titleFontSize": 15.5}},
   "color": {"field": "series", "type": "nominal"},
   "fill": {"field": "series", "type": "nominal", "scale": {"domain": ["Control","ONC (10D)"], "range": ["white","#f01414"]}}}}
 ]
}
],
"config": {
 "font": "Liberation Sans",
 "view": {"stroke": null},
 "axis": {"grid": false, "domainColor": "black", "domainWidth": 1.6, "tickColor": "black", "tickWidth": 1.6, "labelColor": "black", "labelFontSize": 16, "labelFont": "Liberation Sans", "titleColor": "black", "titleFont": "Liberation Sans", "titleFontWeight": "normal", "titleFontSize": 15, "labelOverlap": false, "labelFlush": false, "labelBound": false},
 "legend": {"labelColor": "black", "labelFont": "Liberation Sans", "padding": 0},
 "title": {"fontSize": 27, "fontWeight": "bold", "anchor": "start", "frame": "group", "offset": 0, "color": "black", "font": "Liberation Sans"},
 "text": {"font": "Liberation Sans"}
}
}
